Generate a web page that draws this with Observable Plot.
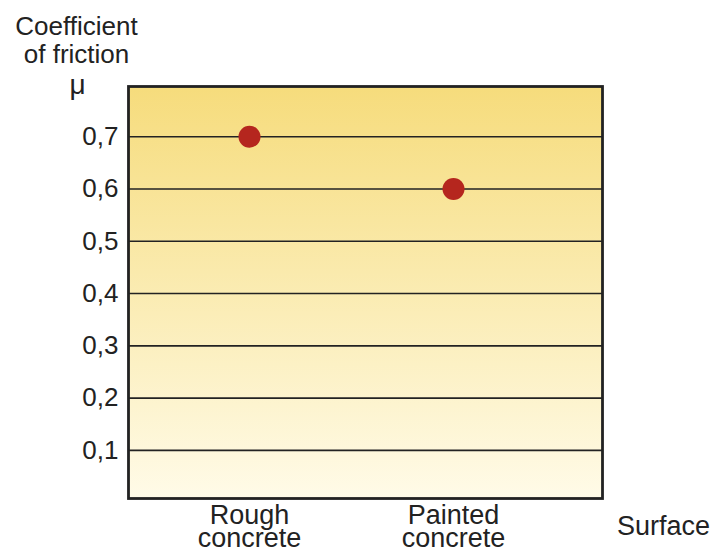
<!DOCTYPE html>
<html>
<head>
<meta charset="utf-8">
<script src="https://cdn.jsdelivr.net/npm/d3@7"></script>
<script src="https://cdn.jsdelivr.net/npm/@observablehq/plot@0.6"></script>
<style>
  html, body { margin: 0; padding: 0; background: #fff; }
  svg { display: block; }
</style>
</head>
<body>
<div id="chart"></div>
<script>
const surfaces = ["Rough concrete", "Painted concrete"];
const surfaceLabels = ["Rough\nconcrete", "Painted\nconcrete"];
const friction = [0.7, 0.6];
const yTicks = [0.1, 0.2, 0.3, 0.4, 0.5, 0.6, 0.7];
const yTitle = "Coefficient\nof friction";
const yUnit = "μ";
const xTitle = "Surface";

const data = surfaces.map((s, i) => ({surface: s, mu: friction[i]}));
const fmt = d => d.toFixed(1).replace(".", ",");
const font = "Liberation Sans, Arial, Helvetica, sans-serif";

const gradientDefs = () => {
  const ns = "http://www.w3.org/2000/svg";
  const defs = document.createElementNS(ns, "defs");
  defs.innerHTML = `<linearGradient id="bgGrad" x1="0" y1="0" x2="0" y2="1">
      <stop offset="0" stop-color="#f6dc7c"/>
      <stop offset="1" stop-color="#fffbe8"/>
    </linearGradient>`;
  return defs;
};

const chart = Plot.plot({
  width: 727,
  height: 556,
  marginLeft: 128,
  marginRight: 125,
  marginTop: 86,
  marginBottom: 58,
  style: {fontFamily: font, fontSize: "26px", color: "#222", background: "#fff"},
  x: {type: "point", domain: surfaces, padding: 0, insetLeft: 121, insetRight: 149},
  y: {domain: [0.008, 0.796]},
  marks: [
    gradientDefs,
    Plot.frame({fill: "url(#bgGrad)", stroke: "none"}),
    Plot.ruleY(yTicks, {stroke: "#222", strokeWidth: 1.6}),
    Plot.frame({stroke: "#222", strokeWidth: 2.8}),
    Plot.dot(data, {x: "surface", y: "mu", r: 11, fill: "#b5261e", stroke: "none"}),
    Plot.axisY(yTicks, {tickSize: 0, tickPadding: 10, tickFormat: fmt, fontSize: 26, label: null, fill: "#222"}),
    Plot.axisX(surfaces, {tickSize: 0, tickPadding: 9, fontSize: 27, lineHeight: 0.86, label: null, fill: "#222",
      tickFormat: d => surfaceLabels[surfaces.indexOf(d)]}),
    Plot.text([yTitle], {frameAnchor: "top-left", dx: -52, dy: -72, text: d => d, fontSize: 26, lineHeight: 1.1, textAnchor: "middle", fill: "#222"}),
    Plot.text([yUnit], {frameAnchor: "top-left", dx: -51, dy: -12, text: d => d, fontSize: 28, textAnchor: "middle", fill: "#222"}),
    Plot.text([xTitle], {frameAnchor: "bottom-right", dx: 61, dy: 36, text: d => d, fontSize: 27, textAnchor: "middle", fill: "#222"})
  ]
});
document.getElementById("chart").appendChild(chart);
</script>
</body>
</html>
